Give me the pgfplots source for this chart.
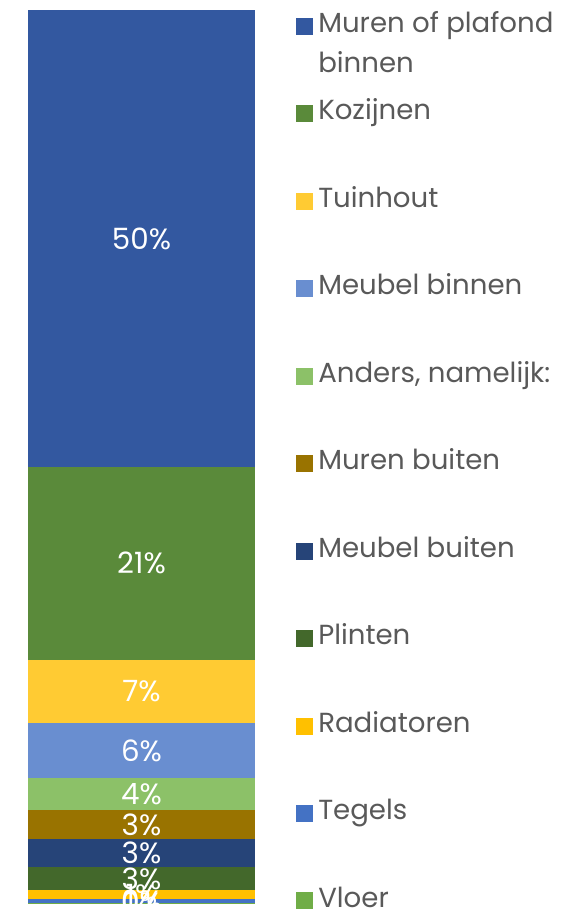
\documentclass[border=0pt]{standalone}
\usepackage{fontspec}
\setmainfont{Poppins}
\usepackage{pgfplots}
\pgfplotsset{compat=1.18}
\definecolor{cMurenBin}{HTML}{3358A0}
\definecolor{cKozijnen}{HTML}{5A8A3A}
\definecolor{cTuinhout}{HTML}{FFCB33}
\definecolor{cMeubBin}{HTML}{698ED0}
\definecolor{cAnders}{HTML}{8CC168}
\definecolor{cMurenBui}{HTML}{997300}
\definecolor{cMeubBui}{HTML}{264478}
\definecolor{cPlinten}{HTML}{43682B}
\definecolor{cRadiatoren}{HTML}{FFC000}
\definecolor{cTegels}{HTML}{4472C4}
\definecolor{cVloer}{HTML}{70AD47}
\definecolor{legtext}{HTML}{595959}
\begin{document}
\begin{tikzpicture}
\path[use as bounding box] (-21pt,-4.125pt) rectangle (411pt,677.625pt);
\begin{axis}[
  at={(0,0)}, anchor=south west,
  scale only axis,
  width=170.25pt, height=670pt,
  ybar stacked,
  bar width=170.25pt,
  xmin=-0.5, xmax=0.5,
  ymin=0, ymax=98.35,
  axis lines=none,
  ticks=none,
  point meta=rawy,
  nodes near coords={\pgfmathprintnumber[fixed,precision=0,assume math mode=true]{\pgfplotspointmeta}\%},
  nodes near coords style={font=\fontsize{22pt}{26pt}\selectfont, text=white, anchor=center},
  every axis plot/.append style={draw=none},
  reverse legend,
  legend image code/.code={\fill[#1,draw=none] (0pt,-6.8pt) rectangle (12.75pt,5.95pt);},
  legend style={draw=none, fill=none, at={(1,1)}, anchor=north west, xshift=30.5pt, yshift=-1.5pt,
    font=\fontsize{20.7pt}{30pt}\selectfont, text=legtext, row sep=45.6pt, column sep=4pt,
    inner sep=0pt, nodes={inner sep=0pt, text height=15pt, text depth=5pt}},
  legend cell align=left,
]
\addplot[fill=cVloer] coordinates {(0,0.05)};
\addplot[fill=cTegels] coordinates {(0,0.4)};
\addplot[fill=cRadiatoren] coordinates {(0,1.0)};
\addplot[fill=cPlinten] coordinates {(0,2.6)};
\addplot[fill=cMeubBui] coordinates {(0,3.0)};
\addplot[fill=cMurenBui] coordinates {(0,3.2)};
\addplot[fill=cAnders] coordinates {(0,3.6)};
\addplot[fill=cMeubBin] coordinates {(0,6.0)};
\addplot[fill=cTuinhout] coordinates {(0,7.0)};
\addplot[fill=cKozijnen] coordinates {(0,21.2)};
\addplot[fill=cMurenBin] coordinates {(0,50.3)};
\legend{Vloer, Tegels, Radiatoren, Plinten, Meubel buiten, Muren buiten, {Anders, namelijk:}, Meubel binnen, Tuinhout, Kozijnen, {\parbox[t]{8cm}{Muren of plafond\\binnen}}}
\end{axis}
\end{tikzpicture}
\end{document}
